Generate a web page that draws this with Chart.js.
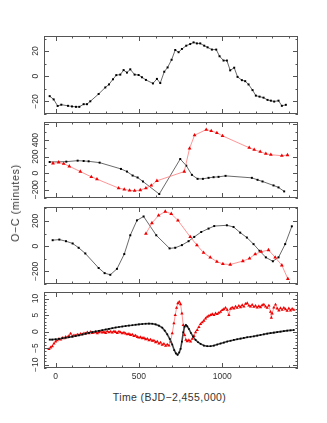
<!DOCTYPE html>
<html><head><meta charset="utf-8">
<script src="https://cdn.jsdelivr.net/npm/chart.js@4.4.1/dist/chart.umd.min.js"></script>
<style>
html,body{margin:0;padding:0;background:#fff;}
#wrap{position:relative;width:327px;height:423px;overflow:hidden;background:#fff;}
canvas{position:absolute;left:0;}
.t{position:absolute;white-space:nowrap;font-family:"Liberation Sans",Arial,sans-serif;font-size:10.5px;color:#333;transform:translate(-50%,-50%);}
#ytitle{left:15px;top:203px;letter-spacing:0.7px;transform:translate(-50%,-50%) rotate(-90deg);}
#xtitle{left:169.5px;top:397px;letter-spacing:0.4px;}
</style></head>
<body>
<div id="wrap">
<canvas id="c1" width="327" height="86" style="top:32px"></canvas>
<canvas id="c2" width="327" height="84" style="top:118px"></canvas>
<canvas id="c3" width="327" height="85" style="top:203px"></canvas>
<canvas id="c4" width="327" height="96" style="top:288px"></canvas>
<div class="t" id="ytitle">O−C (minutes)</div>
<div class="t" id="xtitle">Time (BJD−2,455,000)</div>
</div>
<script>
// ---- shared x axis ----
const xMin = -70, xMax = 1455;
const xTickLabels = [0, 500, 1000];

// ---- panel 1 ----
const p1Time = [-36,-12,12,34,74,98,122,142,168,188,208,258,298,320,344,364,388,408,428,448,474,498,518,542,584,608,628,652,672,696,718,738,758,784,808,828,848,868,892,912,938,964,984,1008,1028,1048,1072,1092,1118,1138,1158,1182,1202,1224,1248,1272,1292,1312,1338,1358,1382];
const p1Black = [-15.8,-18.4,-23.6,-22.6,-23.5,-24,-24.3,-24.3,-22.2,-22.2,-19.9,-14.1,-8.9,-6.5,-2.4,0.9,1.3,4.9,2.9,5.5,1.3,1.0,-0.8,-2.9,-5.7,-2.1,-5.4,3.6,7.0,13.1,20.9,19.1,21.7,24.3,25.6,26.9,26.1,26.1,24.3,23.0,21.2,21.2,15.9,12.5,12.5,4.7,6.8,-0.5,-3.1,-3.9,-6.5,-11,-15.4,-16.2,-17.0,-18.8,-19.4,-20.1,-19.4,-23.5,-22.7];
const p1TickLabels = [-20, 0, 20];

// ---- panel 2 ----
const p2BlackTime = [-36,64,132,168,198,264,392,428,462,492,524,622,748,784,818,852,884,918,948,978,1020,1178,1212,1242,1308,1338,1372];
const p2Black = [136,140,152,148,144,128,52,20,-28,-52,-100,-252,172,92,-20,-68,-68,-56,-48,-44,-32,-56,-80,-100,-148,-172,-220];
const p2RedTime = [-16,18,48,82,148,214,248,378,412,444,474,508,542,574,608,772,804,834,904,934,968,1002,1162,1192,1228,1262,1292,1358,1392];
const p2Red = [120,132,116,84,20,-44,-72,-180,-196,-208,-212,-204,-180,-148,-92,20,300,460,528,512,488,452,308,284,260,236,224,212,220];
const p2TickLabels = [-200, 0, 200, 400];

// ---- panel 3 ----
const p3BlackTime = [-18,22,62,102,138,178,258,294,328,368,412,448,488,528,604,684,718,758,798,832,874,918,952,1028,1068,1108,1148,1188,1224,1262,1304,1338,1378,1418];
const p3Black = [47,52,39,21,-13,-58,-173,-214,-227,-180,-63,86,204,235,86,-18,-13,8,39,73,112,139,159,165,152,107,68,16,-37,-89,-120,-89,16,157];
const p3RedTime = [542,578,618,658,694,734,808,848,888,928,968,1004,1048,1124,1164,1198,1234,1278,1318,1358,1394];
const p3Red = [99,183,243,274,256,204,73,8,-52,-89,-123,-141,-146,-118,-97,-63,-44,-31,-89,-152,-259];
const p3TickLabels = [-200, 0, 200];

// ---- panel 4 ----
const p4BlackTime = [-36,-20,0,20,40,60,80,100,120,140,160,180,200,220,240,260,280,300,320,340,360,380,400,420,440,460,480,500,520,540,560,580,600,620,640,655,670,685,700,712,722,732,742,750,758,766,774,782,790,800,812,825,840,855,870,890,910,930,950,970,990,1010,1030,1050,1070,1090,1110,1130,1150,1170,1190,1210,1230,1250,1270,1290,1310,1330,1350,1370,1390,1410,1430];
const p4Black = [-2.4,-2.4,-2.3,-2.2,-2.0,-1.85,-1.7,-1.5,-1.3,-1.1,-0.85,-0.6,-0.35,-0.15,0.05,0.25,0.45,0.65,0.85,1.05,1.25,1.4,1.55,1.7,1.85,1.95,2.1,2.2,2.3,2.4,2.45,2.4,2.2,1.8,1.2,0.3,-0.8,-2.2,-3.9,-5.6,-6.6,-7.0,-6.3,-5.2,-3.0,-0.2,1.5,2.0,1.6,0.8,-0.4,-1.5,-2.5,-3.2,-3.7,-4.2,-4.4,-4.4,-4.2,-3.9,-3.6,-3.3,-3.0,-2.75,-2.5,-2.3,-2.1,-1.9,-1.7,-1.55,-1.4,-1.2,-1.0,-0.8,-0.6,-0.45,-0.3,-0.15,0.0,0.15,0.3,0.4,0.5];
const p4RedTime = [-40,-30,-20,-10,0,10,20,30,40,50,
  60,70,80,90,100,110,120,130,140,150,
  160,170,180,190,200,210,220,230,240,250,
  260,270,280,290,300,310,320,330,340,350,
  360,370,380,390,400,410,420,430,440,450,
  460,470,480,490,500,510,520,530,540,550,
  560,570,580,590,600,610,620,630,640,650,
  660,670,680,690,700,710,718,726,734,742,
  750,758,766,774,782,790,800,810,820,830,
  840,850,860,870,880,890,900,910,920,930,
  940,950,960,970,980,990,1000,1010,1020,1030,
  1040,1050,1060,1070,1080,1090,1100,1110,1120,1130,
  1140,1150,1160,1170,1180,1190,1200,1210,1220,1230,
  1240,1250,1260,1270,1280,1290,1295,1300,1310,1320,
  1330,1340,1350,1360,1370,1380,1390,1400,1410,1420,
  1430];
const p4Red = [-5.3,-4.8,-4.4,-3.6,-3.0,-2.6,-2.2,-2.4,-1.9,-2.0,
  -1.6,-1.7,-1.3,-0.6,-1.4,-1.1,-1.2,-0.9,-1.0,-0.7,
  -0.8,-0.5,-0.6,-0.2,-0.5,-0.1,-0.4,-0.3,-0.1,-0.5,
  -0.2,0.0,-0.3,-0.1,-0.4,0.1,-0.2,0.0,-0.3,0.1,
  -0.1,-0.4,0.0,-0.2,-0.5,-0.3,-0.6,-0.8,-0.7,-1.0,
  -0.9,-1.3,-1.2,-1.6,-1.8,-1.7,-2.0,-1.9,-2.3,-2.2,
  -2.6,-2.4,-2.8,-2.7,-3.2,-3.0,-3.6,-3.3,-4.0,-3.7,
  -4.3,-3.9,-4.2,-3.0,-0.5,2.5,5.0,7.2,8.6,9.0,
  8.3,5.5,2.0,-1.0,-2.5,-2.9,-2.6,-3.0,-2.2,-1.3,
  -0.2,0.5,1.4,2.3,2.8,3.3,4.0,4.5,4.8,5.0,
  5.3,5.0,5.5,5.3,5.7,6.0,6.5,6.8,7.2,6.6,
  5.0,6.9,7.3,7.0,7.6,7.2,7.8,7.4,8.0,7.6,
  8.4,8.6,7.9,7.6,8.1,7.5,7.8,7.3,7.7,7.4,
  8.0,8.2,7.6,7.2,7.9,6.0,4.2,5.5,7.3,8.2,
  7.0,6.4,7.1,6.6,7.2,6.8,6.3,7.0,6.4,6.9,
  6.6];
const p4TickLabels = [-10, -5, 0, 5, 10];

// ---- helpers ----
const zip = (xs, ys) => xs.map((x, i) => ({x: x, y: ys[i]}));
const BLACK = '#000000', BLACK_LINE = '#444444', RED = '#ee0000', RED_LINE = '#ff7a7a';

function blackSet(t, v, r, lw) {
  return {data: zip(t, v), showLine: true, borderColor: BLACK_LINE, borderWidth: lw,
    pointStyle: 'rect', pointRadius: r, pointBackgroundColor: BLACK, pointBorderColor: BLACK, pointBorderWidth: 0};
}
function redSet(t, v, r) {
  return {data: zip(t, v), showLine: true, borderColor: RED_LINE, borderWidth: 0.8,
    pointStyle: 'triangle', pointRadius: r, pointBackgroundColor: RED, pointBorderColor: RED, pointBorderWidth: 0};
}
const fmt = v => (v < 0 ? '\u2212' + Math.abs(v) : String(v));

const framePlugin = {
  id: 'frame',
  afterDraw(chart, args, o) {
    const ctx = chart.ctx, a = chart.chartArea, x = chart.scales.x, y = chart.scales.y;
    ctx.save();
    ctx.strokeStyle = '#555';
    ctx.lineWidth = 1;
    ctx.strokeRect(a.left + 0.5, a.top + 0.5, a.right - a.left - 1, a.bottom - a.top - 1);
    ctx.beginPath();
    for (let v = Math.ceil(x.min / 100) * 100; v <= x.max; v += 100) {
      const p = Math.round(x.getPixelForValue(v)) + 0.5;
      const len = (v % 500 === 0) ? 5 : 2.5;
      ctx.moveTo(p, a.bottom); ctx.lineTo(p, a.bottom - len);
      ctx.moveTo(p, a.top); ctx.lineTo(p, a.top + len);
    }
    for (let v = Math.ceil(y.min / o.minor) * o.minor; v <= y.max; v += o.minor) {
      const p = Math.round(y.getPixelForValue(v)) + 0.5;
      const len = (v % o.major === 0) ? 5 : 2.5;
      ctx.moveTo(a.left, p); ctx.lineTo(a.left + len, p);
      ctx.moveTo(a.right, p); ctx.lineTo(a.right - len, p);
    }
    ctx.stroke();
    ctx.fillStyle = '#333';
    ctx.font = '8.5px "Liberation Sans", Arial, sans-serif';
    ctx.textAlign = 'center';
    ctx.textBaseline = 'middle';
    o.labels.forEach(v => {
      const py = y.getPixelForValue(v);
      ctx.save();
      ctx.translate(35.5, py);
      ctx.rotate(-Math.PI / 2);
      ctx.fillText(fmt(v), 0, 0);
      ctx.restore();
    });
    if (o.showX) {
      xTickLabels.forEach(v => {
        ctx.fillText(fmt(v), x.getPixelForValue(v), a.bottom + 8.5);
      });
    }
    ctx.restore();
  }
};

function panel(id, padTop, padBottom, yMin, yMax, major, minor, labels, datasets, showX) {
  return new Chart(document.getElementById(id), {
    type: 'scatter',
    data: {datasets: datasets},
    options: {
      responsive: false, animation: false, devicePixelRatio: 1,
      layout: {padding: {left: 44, right: 29, top: padTop, bottom: padBottom}},
      plugins: {legend: {display: false}, tooltip: {enabled: false},
        frame: {major: major, minor: minor, labels: labels, showX: showX}},
      scales: {
        x: {type: 'linear', min: xMin, max: xMax, display: false},
        y: {type: 'linear', min: yMin, max: yMax, display: false}
      }
    },
    plugins: [framePlugin]
  });
}

panel('c1', 4, 4, -30, 32, 20, 10, p1TickLabels,
  [blackSet(p1Time, p1Black, 1.4, 0.8)], false);
panel('c2', 4, 4, -300, 620, 200, 100, p2TickLabels,
  [redSet(p2RedTime, p2Red, 2.2), blackSet(p2BlackTime, p2Black, 1.4, 0.8)], false);
panel('c3', 4, 4, -300, 310, 200, 100, p3TickLabels,
  [redSet(p3RedTime, p3Red, 2.2), blackSet(p3BlackTime, p3Black, 1.4, 0.8)], false);
panel('c4', 4, 16, -11, 12, 5, 1, p4TickLabels,
  [blackSet(p4BlackTime, p4Black, 1.2, 1.6), redSet(p4RedTime, p4Red, 1.9)], true);
</script>
</body></html>
